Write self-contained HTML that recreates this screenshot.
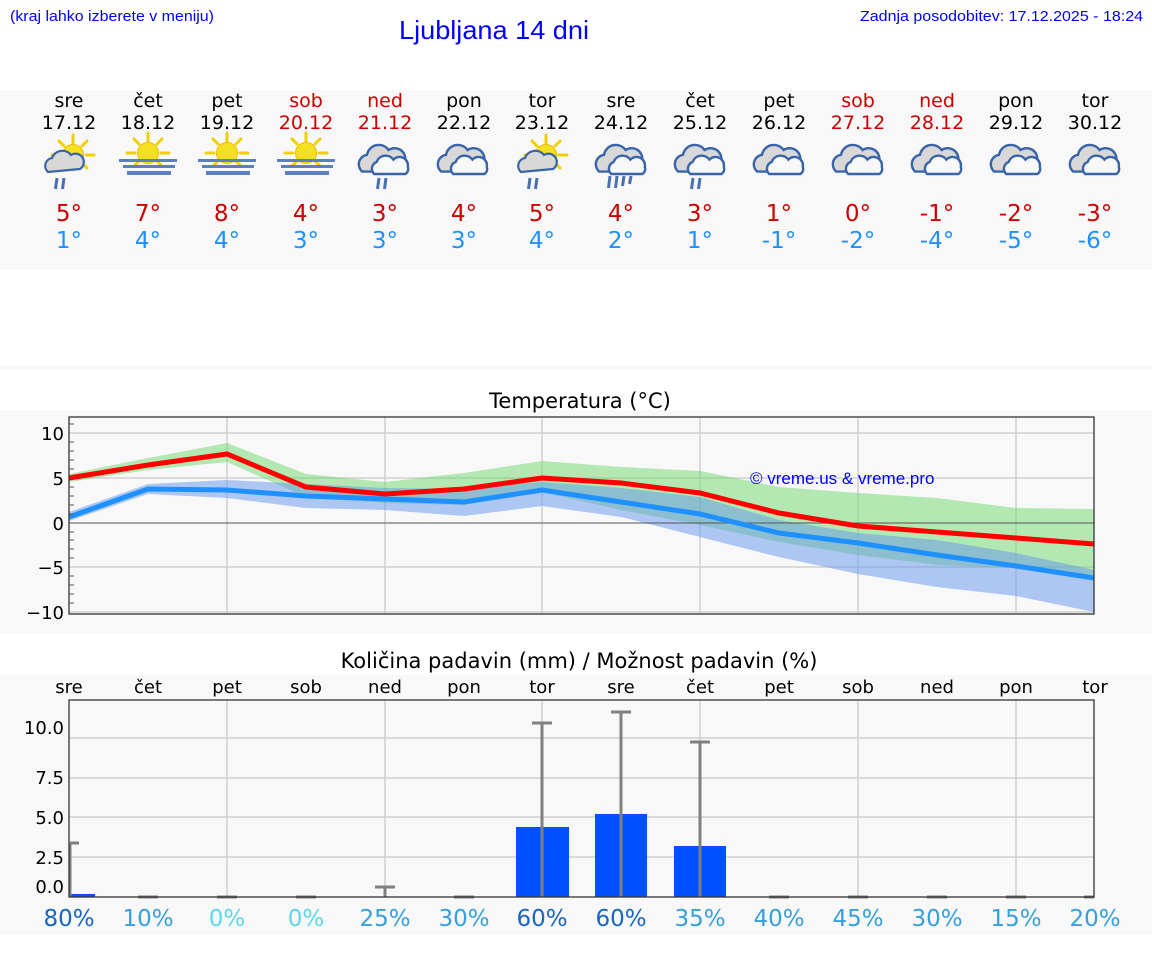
<!DOCTYPE html>
<html><head><meta charset="utf-8">
<style>
html,body{margin:0;padding:0;background:#fff;}
svg{display:block;}
text{font-family:"DejaVu Sans","Liberation Sans",sans-serif;}
</style></head><body>
<svg width="1152" height="975" viewBox="0 0 1152 975" xmlns="http://www.w3.org/2000/svg">
<defs>
 <g id="sun">
  <g stroke="#f0d000" stroke-width="3" stroke-linecap="round">
   <line x1="0" y1="-12" x2="0" y2="-20"/><line x1="9" y1="-9" x2="14" y2="-14"/><line x1="13" y1="0" x2="21" y2="0"/>
   <line x1="-9" y1="-9" x2="-14" y2="-14"/><line x1="-13" y1="0" x2="-21" y2="0"/><line x1="9" y1="8" x2="14" y2="13"/><line x1="-9" y1="8" x2="-14" y2="13"/>
  </g>
  <circle r="10.5" fill="#f5e020" stroke="#f0b800" stroke-width="1"/>
 </g>
 <g id="fogsun">
  <use href="#sun" x="29" y="14"/>
  <rect x="0" y="20" width="58" height="3" fill="#5a80c0"/>
  <rect x="4" y="26" width="52" height="3" fill="#5a80c0"/>
  <rect x="8" y="32" width="44" height="4" fill="#5a80c0"/>
 </g>
 <g id="cloud0">
  <path d="M6,28 a8,8 0 0 1 4,-14 a10,10 0 0 1 18,-4 a9,9 0 0 1 14,8 a6,6 0 0 1 -2,10 z" fill="#d8d8d8" stroke="#3a64a8" stroke-width="2"/>
  <path d="M16,30 a6,6 0 0 1 2,-10 a8,8 0 0 1 14,-2 a7,7 0 0 1 12,6 a5,5 0 0 1 -2,6 z" fill="#f8f8f8" stroke="#3a64a8" stroke-width="2"/>
 </g>
 <g id="cloud"><g transform="scale(1.2)"><use href="#cloud0"/></g></g>
 <g id="rain2" stroke="#4a70b0" stroke-width="3"><line x1="0" y1="0" x2="-1.5" y2="11"/><line x1="7" y1="0" x2="5.5" y2="11"/></g>
 <g id="rain4" stroke="#4a70b0" stroke-width="3"><line x1="0" y1="0" x2="-1.5" y2="12"/><line x1="7" y1="0" x2="5.5" y2="12"/><line x1="14" y1="0" x2="12.5" y2="10"/><line x1="21" y1="0" x2="19.5" y2="8"/></g>
 <g id="pcrain">
  <use href="#sun" x="30" y="19"/>
  <path d="M5,36 a8,8 0 0 1 4,-14 a11,11 0 0 1 19,-3 a8,8 0 0 1 9,14 z" fill="#d8d8d8" stroke="#3a64a8" stroke-width="2.2"/>
  <use href="#rain2" x="14" y="42"/>
 </g>
</defs>

<!-- header -->
<text x="10" y="21" font-size="15" fill="#0000ff" textLength="204" lengthAdjust="spacingAndGlyphs" style="font-family:'Liberation Sans',sans-serif">(kraj lahko izberete v meniju)</text>
<text x="399" y="39" font-size="26" fill="#0000ff" textLength="190" lengthAdjust="spacingAndGlyphs" style="font-family:'Liberation Sans',sans-serif">Ljubljana 14 dni</text>
<text x="860" y="21" font-size="15" fill="#0000ff" textLength="283" lengthAdjust="spacingAndGlyphs" style="font-family:'Liberation Sans',sans-serif">Zadnja posodobitev: 17.12.2025 - 18:24</text>

<!-- forecast band -->
<rect x="0" y="90" width="1152" height="180" fill="#f8f8f8"/>
<rect x="0" y="365" width="1152" height="5" fill="#f8f8f8"/>
<g font-size="19" text-anchor="middle">
 <text x="69" y="107">sre</text><text x="148" y="107">čet</text><text x="227" y="107">pet</text>
 <text x="306" y="107" fill="#cc0000">sob</text><text x="385" y="107" fill="#cc0000">ned</text>
 <text x="464" y="107">pon</text><text x="542" y="107">tor</text><text x="621" y="107">sre</text>
 <text x="700" y="107">čet</text><text x="779" y="107">pet</text>
 <text x="858" y="107" fill="#cc0000">sob</text><text x="937" y="107" fill="#cc0000">ned</text>
 <text x="1016" y="107">pon</text><text x="1095" y="107">tor</text>
 <text x="69" y="129">17.12</text><text x="148" y="129">18.12</text><text x="227" y="129">19.12</text>
 <text x="306" y="129" fill="#cc0000">20.12</text><text x="385" y="129" fill="#cc0000">21.12</text>
 <text x="464" y="129">22.12</text><text x="542" y="129">23.12</text><text x="621" y="129">24.12</text>
 <text x="700" y="129">25.12</text><text x="779" y="129">26.12</text>
 <text x="858" y="129" fill="#cc0000">27.12</text><text x="937" y="129" fill="#cc0000">28.12</text>
 <text x="1016" y="129">29.12</text><text x="1095" y="129">30.12</text>
</g>
<!-- icons -->
<use href="#pcrain" x="43" y="136"/>
<use href="#fogsun" x="119" y="139"/>
<use href="#fogsun" x="198" y="139"/>
<use href="#fogsun" x="277" y="139"/>
<use href="#cloud" x="355" y="138"/><use href="#rain2" x="379" y="178"/>
<use href="#cloud" x="434" y="138"/>
<use href="#pcrain" x="516" y="136"/>
<use href="#cloud" x="592" y="138"/><use href="#rain4" x="610" y="176"/>
<use href="#cloud" x="671" y="138"/><use href="#rain2" x="693" y="178"/>
<use href="#cloud" x="750" y="138"/>
<use href="#cloud" x="829" y="138"/>
<use href="#cloud" x="908" y="138"/>
<use href="#cloud" x="987" y="138"/>
<use href="#cloud" x="1066" y="138"/>
<!-- temps -->
<g font-size="23" text-anchor="middle" fill="#cc0000">
 <text x="69" y="221">5°</text><text x="148" y="221">7°</text><text x="227" y="221">8°</text><text x="306" y="221">4°</text>
 <text x="385" y="221">3°</text><text x="464" y="221">4°</text><text x="542" y="221">5°</text><text x="621" y="221">4°</text>
 <text x="700" y="221">3°</text><text x="779" y="221">1°</text><text x="858" y="221">0°</text><text x="937" y="221">-1°</text>
 <text x="1016" y="221">-2°</text><text x="1095" y="221">-3°</text>
</g>
<g font-size="23" text-anchor="middle" fill="#1e90ff">
 <text x="69" y="248">1°</text><text x="148" y="248">4°</text><text x="227" y="248">4°</text><text x="306" y="248">3°</text>
 <text x="385" y="248">3°</text><text x="464" y="248">3°</text><text x="542" y="248">4°</text><text x="621" y="248">2°</text>
 <text x="700" y="248">1°</text><text x="779" y="248">-1°</text><text x="858" y="248">-2°</text><text x="937" y="248">-4°</text>
 <text x="1016" y="248">-5°</text><text x="1095" y="248">-6°</text>
</g>

<!-- Temperature chart -->
<rect x="0" y="410" width="1152" height="224" fill="#f8f8f8"/>
<text x="580" y="408" font-size="21" text-anchor="middle">Temperatura (°C)</text>
<g stroke="#d0d0d0" stroke-width="1.5">
 <line x1="69" y1="433" x2="1094" y2="433"/><line x1="69" y1="478" x2="1094" y2="478"/>
 <line x1="69" y1="567" x2="1094" y2="567"/><line x1="69" y1="612" x2="1094" y2="612"/>
 <line x1="227" y1="417" x2="227" y2="614"/><line x1="385" y1="417" x2="385" y2="614"/>
 <line x1="542" y1="417" x2="542" y2="614"/><line x1="700" y1="417" x2="700" y2="614"/>
 <line x1="858" y1="417" x2="858" y2="614"/><line x1="1016" y1="417" x2="1016" y2="614"/>
</g>
<polygon fill="rgba(110,215,110,0.5)" points="69,474 148,458 227,443 306,474 385,482 464,473 542,461 621,467 700,471 779,487 858,493 937,498 1016,508 1094,509 1094,575 1016,568 937,565 858,555 779,542 700,525 621,510 542,492 464,505 385,503 306,497 227,462 148,470 69,482"/>
<polygon fill="rgba(100,150,235,0.5)" points="69,512 148,484 227,480 306,484 385,488 464,489 542,482 621,488 700,497 779,520 858,533 937,540 1016,553 1094,570 1094,612 1016,596 937,587 858,574 779,557 700,537 621,517 542,506 464,516 385,510 306,508 227,498 148,494 69,521"/>
<line x1="69" y1="523" x2="1094" y2="523" stroke="#555" stroke-width="1"/>
<polyline fill="none" stroke="#1e90ff" stroke-width="5" points="69,517 148,489 227,490 306,496 385,499 464,502 542,490 621,502 700,514 779,533 858,543 937,555 1016,566 1094,578"/>
<polyline fill="none" stroke="#ff0000" stroke-width="5" points="69,478 148,465 227,454 306,487 385,494 464,489 542,478 621,483 700,493 779,513 858,526 937,532 1016,538 1094,544"/>
<text x="750" y="484" font-size="17" fill="#0000ff" style="font-family:'Liberation Sans',sans-serif">© vreme.us &amp; vreme.pro</text>
<rect x="69" y="417" width="1025" height="197" fill="none" stroke="#333" stroke-width="1.3"/>
<g stroke="#555" stroke-width="1">
 <line x1="69" y1="424" x2="74" y2="424"/><line x1="69" y1="442" x2="74" y2="442"/><line x1="69" y1="451" x2="74" y2="451"/><line x1="69" y1="460" x2="74" y2="460"/><line x1="69" y1="469" x2="74" y2="469"/>
 <line x1="69" y1="487" x2="74" y2="487"/><line x1="69" y1="496" x2="74" y2="496"/><line x1="69" y1="505" x2="74" y2="505"/><line x1="69" y1="514" x2="74" y2="514"/>
 <line x1="69" y1="532" x2="74" y2="532"/><line x1="69" y1="540" x2="74" y2="540"/><line x1="69" y1="549" x2="74" y2="549"/><line x1="69" y1="558" x2="74" y2="558"/>
 <line x1="69" y1="576" x2="74" y2="576"/><line x1="69" y1="585" x2="74" y2="585"/><line x1="69" y1="594" x2="74" y2="594"/><line x1="69" y1="603" x2="74" y2="603"/>
</g>
<g font-size="18" text-anchor="end">
 <text x="64" y="440">10</text><text x="64" y="485">5</text><text x="64" y="530">0</text><text x="64" y="574">−5</text><text x="64" y="619">−10</text>
</g>

<!-- Precipitation chart -->
<rect x="0" y="675" width="1152" height="260" fill="#f8f8f8"/>
<text x="579" y="668" font-size="21" text-anchor="middle">Količina padavin (mm) / Možnost padavin (%)</text>
<g font-size="18" text-anchor="middle">
 <text x="69" y="693">sre</text><text x="148" y="693">čet</text><text x="227" y="693">pet</text><text x="306" y="693">sob</text>
 <text x="385" y="693">ned</text><text x="464" y="693">pon</text><text x="542" y="693">tor</text><text x="621" y="693">sre</text>
 <text x="700" y="693">čet</text><text x="779" y="693">pet</text><text x="858" y="693">sob</text><text x="937" y="693">ned</text>
 <text x="1016" y="693">pon</text><text x="1095" y="693">tor</text>
</g>
<g stroke="#d0d0d0" stroke-width="1.5">
 <line x1="69" y1="738" x2="1094" y2="738"/><line x1="69" y1="778" x2="1094" y2="778"/>
 <line x1="69" y1="817" x2="1094" y2="817"/><line x1="69" y1="857" x2="1094" y2="857"/>
 <line x1="227" y1="700" x2="227" y2="897"/><line x1="385" y1="700" x2="385" y2="897"/>
 <line x1="542" y1="700" x2="542" y2="897"/><line x1="700" y1="700" x2="700" y2="897"/>
 <line x1="858" y1="700" x2="858" y2="897"/><line x1="1016" y1="700" x2="1016" y2="897"/>
</g>
<g fill="#0050ff">
 <rect x="70" y="894" width="25" height="3"/>
 <rect x="516" y="827" width="53" height="70"/>
 <rect x="595" y="814" width="52" height="83"/>
 <rect x="674" y="846" width="52" height="51"/>
</g>
<g stroke="#808080" stroke-width="3">
 <line x1="70" y1="843" x2="70" y2="897"/><line x1="70" y1="843" x2="79" y2="843"/>
 <line x1="385" y1="887" x2="385" y2="897"/><line x1="375" y1="887" x2="395" y2="887"/>
 <line x1="542" y1="723" x2="542" y2="897"/><line x1="532" y1="723" x2="552" y2="723"/>
 <line x1="621" y1="712" x2="621" y2="897"/><line x1="611" y1="712" x2="631" y2="712"/>
 <line x1="700" y1="742" x2="700" y2="897"/><line x1="690" y1="742" x2="710" y2="742"/>
 <line x1="138" y1="897" x2="158" y2="897"/><line x1="217" y1="897" x2="237" y2="897"/><line x1="296" y1="897" x2="316" y2="897"/>
 <line x1="454" y1="897" x2="474" y2="897"/><line x1="769" y1="897" x2="789" y2="897"/><line x1="848" y1="897" x2="868" y2="897"/>
 <line x1="927" y1="897" x2="947" y2="897"/><line x1="1006" y1="897" x2="1026" y2="897"/><line x1="1084" y1="897" x2="1094" y2="897"/>
</g>
<rect x="69" y="700" width="1025" height="197" fill="none" stroke="#333" stroke-width="1.3"/>
<g font-size="18" text-anchor="end">
 <text x="64" y="734">10.0</text><text x="64" y="784">7.5</text><text x="64" y="824">5.0</text><text x="64" y="864">2.5</text><text x="64" y="893">0.0</text>
</g>
<g font-size="23" text-anchor="middle">
 <text x="69" y="926" fill="#1a66c0">80%</text><text x="148" y="926" fill="#36a0da">10%</text><text x="227" y="926" fill="#5cd8ea">0%</text>
 <text x="306" y="926" fill="#5cd8ea">0%</text><text x="385" y="926" fill="#36a0da">25%</text><text x="464" y="926" fill="#36a0da">30%</text>
 <text x="542" y="926" fill="#1a66c0">60%</text><text x="621" y="926" fill="#1a66c0">60%</text><text x="700" y="926" fill="#36a0da">35%</text>
 <text x="779" y="926" fill="#36a0da">40%</text><text x="858" y="926" fill="#36a0da">45%</text><text x="937" y="926" fill="#36a0da">30%</text>
 <text x="1016" y="926" fill="#36a0da">15%</text><text x="1095" y="926" fill="#36a0da">20%</text>
</g>
</svg>
</body></html>
